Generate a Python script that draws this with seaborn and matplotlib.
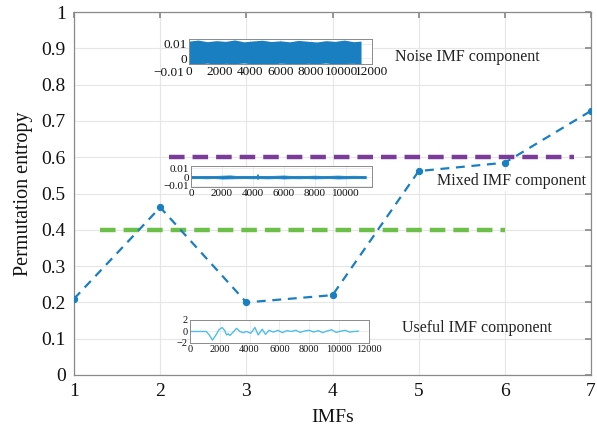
import numpy as np
import pandas as pd
import matplotlib
matplotlib.use("Agg")
import matplotlib.pyplot as plt
import seaborn as sns

# Permutation entropy of each IMF
imfs = [1, 2, 3, 4, 5, 6, 7]
entropy = [0.21, 0.462, 0.200, 0.22, 0.562, 0.585, 0.728]

# Threshold lines separating the IMF groups
low_thr_x = [1.3, 6.0]
low_thr_y = [0.40, 0.40]
high_thr_x = [2.1, 6.8]
high_thr_y = [0.602, 0.602]

# Thumbnail of a useful IMF waveform
useful_t = [0, 1100, 1300, 1520, 1750, 1950, 2170, 2350, 2460, 2580, 2680, 2900,
            3130, 3350, 3580, 3800, 4090, 4360, 4580, 4850, 5070, 5300, 5600,
            5900, 6200, 6500, 6800, 7100, 7400, 7700, 8000, 8300, 8600, 8900,
            9200, 9500, 9800, 10100, 10400, 10700, 11000, 11300]
useful_v = [0, 0, -0.6, -1.5, -0.6, 0.3, 0.7, 0.1, -0.6, -0.4, -0.7, -0.1,
            0.55, 0.0, -0.2, 0.0, -0.3, 0.7, -0.6, 0.4, -0.5, 0.2, -0.1,
            0.2, -0.2, 0.15, 0.0, 0.2, -0.15, 0.1, 0.2, -0.1, 0.15, -0.2,
            0.1, 0.3, -0.15, 0.05, 0.2, -0.1, 0.0, 0.05]

# Envelope of the mixed IMF component
mixed_t = [0, 500, 1000, 1500, 2000, 2500, 3000, 3500, 4000, 4250, 4300, 4350,
           4500, 5000, 5500, 6000, 6500, 7000, 7500, 8000, 8500, 9000, 9500,
           10000, 10500, 11300]
mixed_hi = [0.0014, 0.0011, 0.0013, 0.0012, 0.0016, 0.0019, 0.0012, 0.0014, 0.0013,
            0.0014, 0.0035, 0.0014, 0.0013, 0.0012, 0.0015, 0.0018, 0.0012, 0.0014,
            0.0013, 0.0016, 0.0012, 0.0014, 0.0017, 0.0013, 0.0015, 0.0012]
mixed_lo = [-0.0013, -0.0012, -0.0014, -0.0011, -0.0017, -0.0015, -0.0013, -0.0012,
            -0.0014, -0.0013, -0.0022, -0.0013, -0.0013, -0.0015, -0.0012, -0.0016,
            -0.0013, -0.0014, -0.0012, -0.0015, -0.0013, -0.0012, -0.0016, -0.0014,
            -0.0012, -0.0013]

# Envelope of the noise IMF component
noise_t = [0, 600, 1200, 1800, 2400, 3000, 3600, 4200, 4800, 5400, 6000, 6600,
           7200, 7800, 8400, 9000, 9600, 10200, 10800, 11300]
noise_hi = [0.0118, 0.0125, 0.0114, 0.0121, 0.0116, 0.0126, 0.0113, 0.0119, 0.0124,
            0.0115, 0.0120, 0.0113, 0.0123, 0.0117, 0.0112, 0.0121, 0.0116, 0.0125,
            0.0114, 0.0118]
noise_lo = [-0.0036, -0.0039, -0.0034, -0.0040, -0.0035, -0.0038, -0.0033, -0.0039,
            -0.0036, -0.0040, -0.0034, -0.0037, -0.0039, -0.0035, -0.0038, -0.0033,
            -0.0040, -0.0036, -0.0035, -0.0038]

sns.set_theme(style="whitegrid")
plt.rcParams["font.family"] = ["Liberation Serif", "DejaVu Serif"]
plt.rcParams["axes.unicode_minus"] = True

BLUE = "#1a7fc1"
LIGHT_BLUE = "#4dbeee"
GREEN = "#6cc04a"
PURPLE = "#7a3c98"
SPINE = "#8a8a8a"
GRID = "#e6e6e6"

fig = plt.figure(figsize=(5.97, 4.34), dpi=100)
ax = fig.add_axes([0.124, 0.136, 0.866, 0.836])

df = pd.DataFrame({"IMF": imfs, "PE": entropy})
sns.lineplot(data=df, x="IMF", y="PE", ax=ax, color=BLUE, linewidth=1.6,
             linestyle=(0, (4, 3)), marker="o", markersize=4.5,
             markeredgecolor=BLUE, zorder=4)
sns.lineplot(x=low_thr_x, y=low_thr_y, ax=ax, color=GREEN, linewidth=3.2,
             linestyle=(0, (3.5, 1.8)), zorder=3)
sns.lineplot(x=high_thr_x, y=high_thr_y, ax=ax, color=PURPLE, linewidth=3.2,
             linestyle=(0, (3.5, 1.8)), zorder=3)

ax.set_xlim(1, 7)
ax.set_ylim(0, 1)
ax.set_xticks(imfs)
ax.set_yticks(np.arange(0, 1.01, 0.1))
ax.set_yticklabels(["0", "0.1", "0.2", "0.3", "0.4", "0.5", "0.6", "0.7", "0.8", "0.9", "1"])
ax.grid(True, color=GRID, linewidth=0.8)
for s in ax.spines.values():
    s.set_color(SPINE)
    s.set_linewidth(0.9)
ax.tick_params(axis="both", direction="in", length=4, color=SPINE, labelsize=14,
               top=True, right=True, pad=6, labelcolor="#111111")
ax.set_xlabel("IMFs", fontsize=14, labelpad=6, color="#111111")
ax.set_ylabel("Permutation entropy", fontsize=14.5, labelpad=6, color="#111111")

ax.text(4.725, 0.876, "Noise IMF component", fontsize=11.5, va="center", ha="left",
        color="#222222", zorder=6)
ax.text(5.21, 0.534, "Mixed IMF component", fontsize=11.5, va="center", ha="left",
        color="#222222", zorder=6,
        bbox=dict(facecolor="white", edgecolor="none", pad=1.5))
ax.text(4.81, 0.13, "Useful IMF component", fontsize=11.5, va="center", ha="left",
        color="#222222", zorder=6)


def style_inset(a, size):
    for s in a.spines.values():
        s.set_color(SPINE)
        s.set_linewidth(0.7)
    a.grid(True, color=GRID, linewidth=0.5)
    a.tick_params(axis="both", direction="in", length=2, color=SPINE,
                  labelsize=size, pad=1.5, labelcolor="#111111")
    a.set_xlabel("")
    a.set_ylabel("")


# Noise IMF thumbnail
ax_n = fig.add_axes([0.3166, 0.852, 0.306, 0.058])
ax_n.fill_between(noise_t, noise_lo, noise_hi, color=BLUE, linewidth=0)
ax_n.set_xlim(0, 12000)
ax_n.set_ylim(-0.0041, 0.0132)
ax_n.set_xticks(np.arange(0, 12001, 2000))
ax_n.set_xticklabels([str(v) for v in range(0, 12001, 2000)])
ax_n.set_yticks([0, 0.01])
ax_n.set_yticklabels(["0", "0.01"])
style_inset(ax_n, 9.5)
ax_n.text(-0.025, -0.36, "\u22120.01", transform=ax_n.transAxes, fontsize=9.5,
          ha="right", va="center", color="#111111")

# Mixed IMF thumbnail
ax_m = fig.add_axes([0.320, 0.569, 0.303, 0.049])
ax_m.fill_between(mixed_t, mixed_lo, mixed_hi, color=BLUE, linewidth=0.6,
                  edgecolor=BLUE)
ax_m.set_xlim(0, 11700)
ax_m.set_ylim(-0.0115, 0.013)
ax_m.set_xticks(np.arange(0, 10001, 2000))
ax_m.set_yticks([-0.01, 0, 0.01])
ax_m.set_yticklabels(["\u22120.01", "0", "0.01"])
style_inset(ax_m, 8)

# Useful IMF thumbnail
ax_u = fig.add_axes([0.318, 0.2097, 0.300, 0.053])
sns.lineplot(x=useful_t, y=useful_v, ax=ax_u, color=LIGHT_BLUE, linewidth=1.0)
ax_u.set_xlim(0, 12000)
ax_u.set_ylim(-2, 2)
ax_u.set_xticks(np.arange(0, 12001, 2000))
ax_u.set_yticks([-2, 0, 2])
ax_u.set_yticklabels(["\u22122", "0", "2"])
style_inset(ax_u, 7.5)

fig.savefig("out.png", dpi=100)
